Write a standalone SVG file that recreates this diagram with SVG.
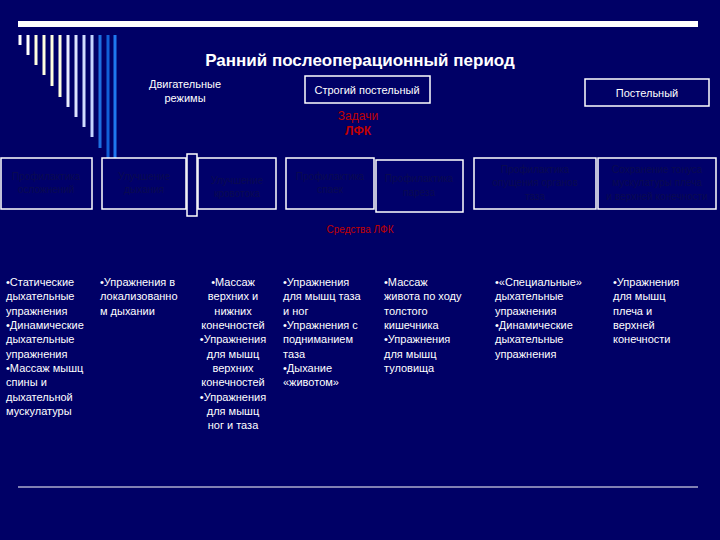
<svg xmlns="http://www.w3.org/2000/svg" width="720" height="540" viewBox="0 0 720 540">
<style>
.w{fill:#fff;font-family:"Liberation Sans",Arial,sans-serif;font-size:11px}
.b{fill:none;stroke:#fff;stroke-width:1.5}
.tb{fill:#00006a;stroke:#fff;stroke-width:1.5}
.d{fill:#0a0a50;font-family:"Liberation Sans",Arial,sans-serif;font-size:10px;text-anchor:middle}
.r{fill:#c00000;font-family:"Liberation Sans",Arial,sans-serif;text-anchor:middle}
</style>
<rect width="720" height="540" fill="#000066"/>
<rect x="18" y="21" width="680" height="6" fill="#fff"/>
<g stroke-width="3">
<line x1="20" y1="35" x2="20" y2="45" stroke="#fff"/>
<line x1="28" y1="35" x2="28" y2="55" stroke="#fff"/>
<line x1="36" y1="35" x2="36" y2="65" stroke="#ffffe0"/>
<line x1="44" y1="35" x2="44" y2="75" stroke="#ffffe0"/>
<line x1="52" y1="35" x2="52" y2="86" stroke="#ffffe0"/>
<line x1="60" y1="35" x2="60" y2="97" stroke="#ffffe0"/>
<line x1="68" y1="35" x2="68" y2="107" stroke="#e8ecff"/>
<line x1="76" y1="35" x2="76" y2="117" stroke="#dde4ff"/>
<line x1="84" y1="35" x2="84" y2="127" stroke="#d0dcff"/>
<line x1="92" y1="35" x2="92" y2="137" stroke="#c4d4ff"/>
<line x1="100" y1="35" x2="100" y2="148" stroke="#1e70e0"/>
<line x1="108" y1="35" x2="108" y2="158" stroke="#1060d8"/>
<line x1="115" y1="35" x2="115" y2="167" stroke="#1e78f0"/>
</g>
<text x="360" y="66" text-anchor="middle" font-family="Liberation Sans,Arial,sans-serif" font-size="17" font-weight="bold" fill="#fff">Ранний послеоперационный период</text>
<g id="modes"><text class="w" x="185" y="88" text-anchor="middle">Двигательные</text><text class="w" x="185" y="102" text-anchor="middle">режимы</text></g>
<g id="strict"><rect class="b" x="305" y="76" width="125" height="27"/><text class="w" x="367" y="94" text-anchor="middle">Строгий постельный</text></g>
<g id="bed"><rect class="b" x="585" y="79" width="124" height="27"/><text class="w" x="647" y="97" text-anchor="middle">Постельный</text></g>
<g id="tasks"><text class="r" x="358" y="120" font-size="12">Задачи</text><text class="r" x="358" y="135" font-size="12" font-weight="bold">ЛФК</text></g>
<g id="t1"><rect class="tb" x="1" y="158" width="91" height="51"/><text class="d" x="46" y="180">Профилактика</text><text class="d" x="46" y="193">осложнений</text></g>
<g id="t2"><rect class="tb" x="102" y="158" width="84" height="51"/><text class="d" x="144" y="180">Улучшение</text><text class="d" x="144" y="193">дыхания</text></g>
<g id="t3"><rect class="tb" x="187" y="154" width="10" height="62"/><rect class="tb" x="198" y="158" width="78" height="51"/><text class="d" x="237" y="184">Улучшение</text><text class="d" x="237" y="197">кровотока</text></g>
<g id="t4"><rect class="tb" x="286" y="158" width="88" height="51"/><text class="d" x="330" y="180">Профилактика</text><text class="d" x="330" y="193">спаек</text></g>
<g id="t5"><rect class="tb" x="376" y="160" width="87" height="52"/><text class="d" x="419" y="182">Профилактика</text><text class="d" x="419" y="196">пареза</text></g>
<g id="t6"><rect class="tb" x="474" y="158" width="122" height="51"/><text class="d" x="535" y="173">Профилактика</text><text class="d" x="535" y="186">опущения органов</text><text class="d" x="535" y="200">таза</text></g>
<g id="t7"><rect class="tb" x="598" y="158" width="118" height="51"/><text class="d" x="657" y="173">Сохранение тонуса</text><text class="d" x="657" y="186">мускулатуры плеча</text><text class="d" x="657" y="200">и верхней конечности</text></g>
<g id="means"><text class="r" x="360" y="233" font-size="10">Средства ЛФК</text></g>
<g id="c1" class="w"><text x="6" y="286">•Статические</text><text x="6" y="300">дыхательные</text><text x="6" y="315">упражнения</text><text x="6" y="329">•Динамические</text><text x="6" y="343">дыхательные</text><text x="6" y="358">упражнения</text><text x="6" y="372">•Массаж мышц</text><text x="6" y="386">спины и</text><text x="6" y="401">дыхательной</text><text x="6" y="415">мускулатуры</text></g>
<g id="c2" class="w"><text x="100" y="286">•Упражнения в</text><text x="100" y="300">локализованно</text><text x="100" y="315">м дыхании</text></g>
<g id="c3" class="w" text-anchor="middle"><text x="233" y="286">•Массаж</text><text x="233" y="300">верхних и</text><text x="233" y="315">нижних</text><text x="233" y="329">конечностей</text><text x="233" y="343">•Упражнения</text><text x="233" y="358">для мышц</text><text x="233" y="372">верхних</text><text x="233" y="386">конечностей</text><text x="233" y="401">•Упражнения</text><text x="233" y="415">для мышц</text><text x="233" y="429">ног и таза</text></g>
<g id="c4" class="w"><text x="283" y="286">•Упражнения</text><text x="283" y="300">для мышц таза</text><text x="283" y="315">и ног</text><text x="283" y="329">•Упражнения с</text><text x="283" y="343">подниманием</text><text x="283" y="358">таза</text><text x="283" y="372">•Дыхание</text><text x="283" y="386">«животом»</text></g>
<g id="c5" class="w"><text x="384" y="286">•Массаж</text><text x="384" y="300">живота по ходу</text><text x="384" y="315">толстого</text><text x="384" y="329">кишечника</text><text x="384" y="343">•Упражнения</text><text x="384" y="358">для мышц</text><text x="384" y="372">туловища</text></g>
<g id="c6" class="w"><text x="495" y="286">•«Специальные»</text><text x="495" y="300">дыхательные</text><text x="495" y="315">упражнения</text><text x="495" y="329">•Динамические</text><text x="495" y="343">дыхательные</text><text x="495" y="358">упражнения</text></g>
<g id="c7" class="w"><text x="613" y="286">•Упражнения</text><text x="613" y="300">для мышц</text><text x="613" y="315">плеча и</text><text x="613" y="329">верхней</text><text x="613" y="343">конечности</text></g>
<line x1="18" y1="487" x2="698" y2="487" stroke="#fff" stroke-width="1"/>
<g id="connectors"></g>
</svg>
